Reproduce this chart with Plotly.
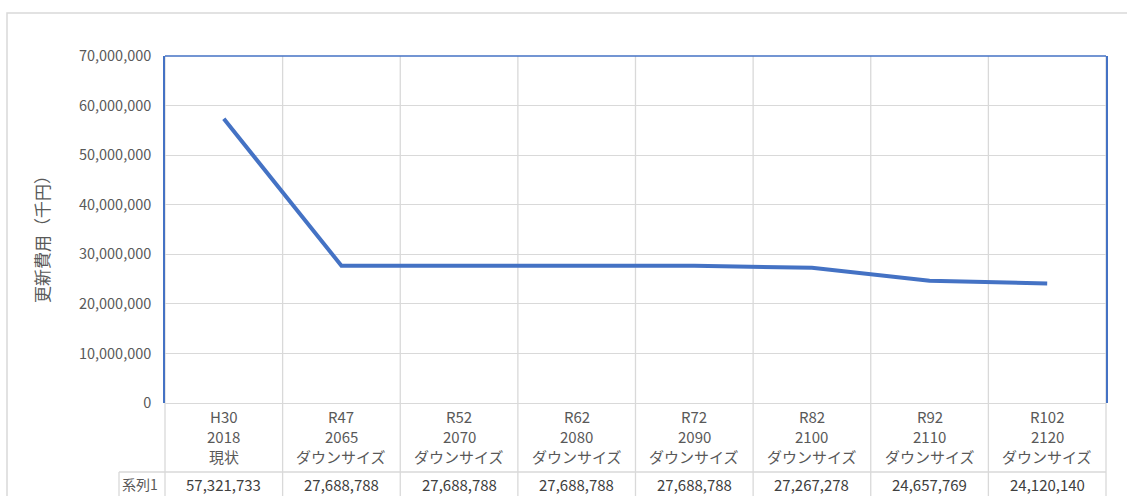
import plotly.graph_objects as go

# Renewal cost (thousand yen) per period
era_labels = ["H30", "R47", "R52", "R62", "R72", "R82", "R92", "R102"]
year_labels = ["2018", "2065", "2070", "2080", "2090", "2100", "2110", "2120"]
scenario_labels = ["現状", "ダウンサイズ", "ダウンサイズ", "ダウンサイズ", "ダウンサイズ",
                   "ダウンサイズ", "ダウンサイズ", "ダウンサイズ"]
series_name = "系列1"
costs = [57321733, 27688788, 27688788, 27688788, 27688788, 27267278, 24657769, 24120140]
y_ticks = [0, 10000000, 20000000, 30000000, 40000000, 50000000, 60000000, 70000000]

W, H = 1127, 496
L, R, T, B = 165, 21, 56, 93
pw, ph = W - L - R, H - T - B

TXT = "#595959"
GRID = "#D9D9D9"
BLUE = "#4472C4"
FONT = "Noto Sans CJK JP"


def px_x(x):
    return (x - L) / pw


def px_y(y):
    return (H - B - y) / ph


n = len(costs)
idx = list(range(n))

fig = go.Figure()
fig.add_trace(go.Scatter(
    x=idx, y=costs, mode="lines",
    line=dict(color=BLUE, width=4),
    name=series_name, showlegend=False, hoverinfo="skip",
))

shapes = []
# outer chart border
shapes.append(dict(type="rect", xref="paper", yref="paper",
                   x0=px_x(7), x1=px_x(1140), y0=px_y(510), y1=px_y(13),
                   line=dict(color=GRID, width=1.5), layer="below"))
# category separators, running through the data table
for i in range(n + 1):
    shapes.append(dict(type="line", xref="paper", yref="paper",
                       x0=i / n, x1=i / n, y0=px_y(510), y1=1,
                       line=dict(color=GRID, width=1.3), layer="below"))
# row rule between category labels and values
shapes.append(dict(type="line", xref="paper", yref="paper",
                   x0=px_x(119), x1=1, y0=px_y(472), y1=px_y(472),
                   line=dict(color=GRID, width=1.3)))
shapes.append(dict(type="line", xref="paper", yref="paper",
                   x0=px_x(119), x1=px_x(119), y0=px_y(472), y1=px_y(510),
                   line=dict(color=GRID, width=1.3)))
# top of plot frame
shapes.append(dict(type="line", xref="paper", yref="paper",
                   x0=0, x1=1, y0=1, y1=1,
                   line=dict(color=BLUE, width=1.5)))

annotations = []
row_y = [416, 436, 456]
for i in range(n):
    for text, yy in zip((era_labels[i], year_labels[i], scenario_labels[i]), row_y):
        annotations.append(dict(x=i, y=px_y(yy), xref="x", yref="paper",
                                text=text, showarrow=False,
                                font=dict(family=FONT, size=15, color=TXT),
                                xanchor="center", yanchor="middle"))
    annotations.append(dict(x=i, y=px_y(484.5), xref="x", yref="paper",
                            text=f"{costs[i]:,}", showarrow=False,
                            font=dict(family=FONT, size=15, color="#404040"),
                            xanchor="center", yanchor="middle", borderpad=0))
annotations.append(dict(x=px_x(140), y=px_y(484), xref="paper", yref="paper",
                        text=series_name, showarrow=False,
                        font=dict(family=FONT, size=14, color=TXT),
                        xanchor="center", yanchor="middle", borderpad=0))
annotations.append(dict(x=px_x(42), y=px_y(235), xref="paper", yref="paper",
                        text="更新費用（千円）", textangle=-90, showarrow=False,
                        font=dict(family=FONT, size=17, color=TXT),
                        xanchor="center", yanchor="middle"))

fig.update_layout(
    width=W, height=H,
    margin=dict(l=L, r=R, t=T, b=B),
    paper_bgcolor="white", plot_bgcolor="white",
    font=dict(family=FONT, color=TXT),
    shapes=shapes, annotations=annotations,
    xaxis=dict(range=[-0.5, n - 0.5], showticklabels=False, showgrid=False,
               zeroline=False, showline=False, ticks="", fixedrange=True),
    yaxis=dict(range=[0, 70000000], tickvals=y_ticks, tickformat=",",
               showgrid=True, gridcolor=GRID, gridwidth=1.3,
               zeroline=True, zerolinecolor=GRID, zerolinewidth=1.3,
               showline=True, linecolor=BLUE, linewidth=1.5, mirror=True,
               ticks="", ticklabelstandoff=9,
               tickfont=dict(family=FONT, size=14.5, color=TXT)),
)

fig.write_html("out.html")
